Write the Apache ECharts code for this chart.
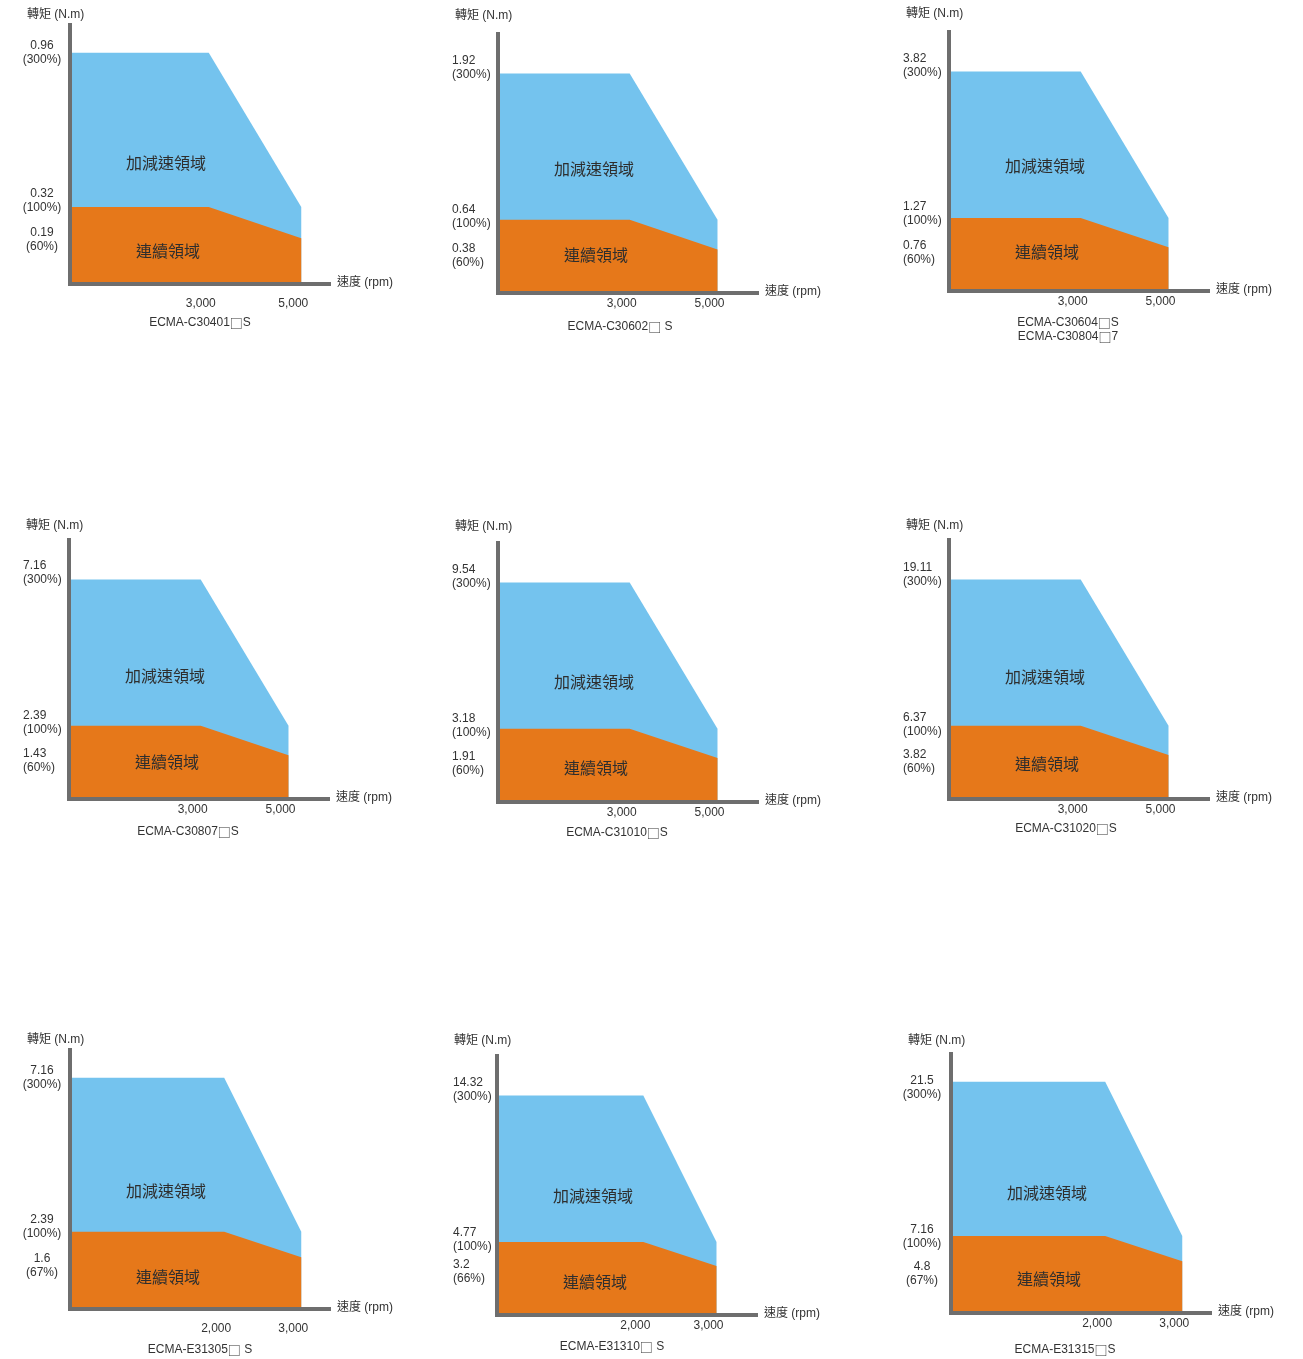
<!DOCTYPE html>
<html><head><meta charset="utf-8">
<script src="https://cdn.jsdelivr.net/npm/echarts@6/dist/echarts.min.js"></script>
<style>html,body{margin:0;padding:0;background:#fff}#c{width:1303px;height:1359px}</style>
</head><body><div id="c"></div>
<script>
// ---- data ----
const models = ['ECMA-C30401\u25A1S', 'ECMA-C30602\u25A1 S', 'ECMA-C30604\u25A1S\nECMA-C30804\u25A17',
  'ECMA-C30807\u25A1S', 'ECMA-C31010\u25A1S', 'ECMA-C31020\u25A1S',
  'ECMA-E31305\u25A1 S', 'ECMA-E31310\u25A1 S', 'ECMA-E31315\u25A1S'];
const peakTorque  = [0.96, 1.92, 3.82, 7.16, 9.54, 19.11, 7.16, 14.32, 21.5];
const ratedTorque = [0.32, 0.64, 1.27, 2.39, 3.18, 6.37, 2.39, 4.77, 7.16];
const maxSpdTorque = [0.19, 0.38, 0.76, 1.43, 1.91, 3.82, 1.6, 3.2, 4.8];
const peakPct  = ['300%','300%','300%','300%','300%','300%','300%','300%','300%'];
const ratedPct = ['100%','100%','100%','100%','100%','100%','100%','100%','100%'];
const maxSpdPct = ['60%','60%','60%','60%','60%','60%','67%','66%','67%'];
const ratedSpeed = [3000, 3000, 3000, 3000, 3000, 3000, 2000, 2000, 2000];
const maxSpeed   = [5000, 5000, 5000, 5000, 5000, 5000, 3000, 3000, 3000];
const yAxisName = '轉矩 (N.m)';
const xAxisName = '速度 (rpm)';
const accelLabel = '加減速領域';
const contLabel = '連續領域';

// ---- layout (pixels) ----
const layout = [
  {x:70,  y:284,  k:1.12, align:'center', lm:28, xm:14, nDy:10, mdx:130, mdy:39, bdy:121, ody:33, ly:[0,-6,1]},
  {x:498, y:293,  k:1.18, align:'left',   lm:46, xm:5,  nDy:18, mdx:122, mdy:34, bdy:124, ody:38, ly:[-6,-3,6]},
  {x:949, y:291,  k:1.18, align:'left',   lm:46, xm:5,  nDy:18, mdx:119, mdy:39, bdy:125, ody:39, ly:[-6,-4,5]},
  {x:69,  y:799,  k:1.18, align:'left',   lm:46, xm:5,  nDy:14, mdx:119, mdy:33, bdy:123, ody:37, ly:[-7,-3,6]},
  {x:498, y:802,  k:1.18, align:'left',   lm:46, xm:5,  nDy:16, mdx:119, mdy:31, bdy:120, ody:34, ly:[-6,-3,6]},
  {x:949, y:799,  k:1.18, align:'left',   lm:46, xm:5,  nDy:14, mdx:117, mdy:30, bdy:122, ody:35, ly:[-5,-1,7]},
  {x:70,  y:1309, k:1.12, align:'center', lm:28, xm:14, nDy:10, mdx:130, mdy:41, bdy:118, ody:32, ly:[0,-5,8]},
  {x:497, y:1315, k:1.18, align:'left',   lm:44, xm:5,  nDy:15, mdx:115, mdy:32, bdy:119, ody:33, ly:[-6,-2,6]},
  {x:951, y:1313, k:1.12, align:'center', lm:29, xm:5,  nDy:13, mdx:114, mdy:37, bdy:120, ody:34, ly:[6,1,12]}
];
const W = 259;
const BLUE = '#74C3EE', ORANGE = '#E6781A', AXIS = '#6E6E6E', TXT = '#333333';
const FONT = '"Liberation Sans", "Noto Sans CJK TC", sans-serif';
const CJK = '"Noto Sans CJK TC", sans-serif';

const grid = [], xAxis = [], yAxis = [], series = [], graphic = [];
const txt = (x, y, text, align, font, fill, rich) => ({
  type: 'text', x: x, y: y, z: 10, silent: true,
  style: {text: text, font: font, fill: fill || TXT, textAlign: align, align: align,
          textVerticalAlign: 'middle', verticalAlign: 'middle', lineHeight: 14, rich: rich || {}}
});
models.forEach((m, i) => {
  const L = layout[i];
  grid.push({left: L.x, top: L.y - W, width: W, height: W});
  xAxis.push({
    gridIndex: i, type: 'value', min: 0, max: maxSpeed[i] * L.k, z: 5,
    axisLine: {show: true, onZero: false, lineStyle: {color: AXIS, width: 4, cap: 'square'}},
    axisTick: {show: false}, splitLine: {show: false},
    axisLabel: {
      customValues: [ratedSpeed[i], maxSpeed[i]],
      formatter: v => v.toLocaleString('en-US'),
      margin: L.xm, color: TXT, fontSize: 12, fontFamily: FONT, padding: [0, 16, 0, 0]
    }
  });
  yAxis.push({
    gridIndex: i, type: 'value', min: 0, max: peakTorque[i] * L.k, z: 5,
    axisLine: {show: true, onZero: false, lineStyle: {color: AXIS, width: 4, cap: 'square'}},
    axisTick: {show: false}, splitLine: {show: false}, axisLabel: {show: false}
  });
  series.push({
    type: 'line', xAxisIndex: i, yAxisIndex: i, silent: true, symbol: 'none', z: 2,
    data: [[0, peakTorque[i]], [ratedSpeed[i], peakTorque[i]], [maxSpeed[i], ratedTorque[i]]],
    lineStyle: {width: 0, opacity: 0}, areaStyle: {color: BLUE, opacity: 1}
  });
  series.push({
    type: 'line', xAxisIndex: i, yAxisIndex: i, silent: true, symbol: 'none', z: 3,
    data: [[0, ratedTorque[i]], [ratedSpeed[i], ratedTorque[i]], [maxSpeed[i], maxSpdTorque[i]]],
    lineStyle: {width: 0, opacity: 0}, areaStyle: {color: ORANGE, opacity: 1}
  });
  graphic.push(txt(L.x - 43, L.y - W - L.nDy, yAxisName, 'left', '12px ' + FONT));
  graphic.push(txt(L.x + W + 8, L.y - 1, xAxisName, 'left', '12px ' + FONT));
  const modelRich = m.split('\u25A1').join('{b|\u25A1}');
  graphic.push(txt(L.x + L.mdx, L.y + L.mdy, modelRich, 'center', '12px ' + FONT, TXT,
    {b: {fontFamily: CJK, fontSize: 13, fill: TXT, lineHeight: 14}}));
  graphic.push(txt(L.x + 96, L.y - L.bdy, accelLabel, 'center', '16px ' + CJK, '#2e2e2e'));
  graphic.push(txt(L.x + 98, L.y - L.ody, contLabel, 'center', '16px ' + CJK, '#2e2e2e'));
});

const chart = echarts.init(document.getElementById('c'));
chart.setOption({
  animation: false, backgroundColor: '#ffffff',
  grid: grid, xAxis: xAxis, yAxis: yAxis, series: series, graphic: graphic
});

// y value labels, placed through each grid's own y scale
const yLabels = [];
models.forEach((m, i) => {
  const L = layout[i];
  const vals = [peakTorque[i], ratedTorque[i], maxSpdTorque[i]];
  const pcts = [peakPct[i], ratedPct[i], maxSpdPct[i]];
  vals.forEach((v, j) => {
    const p = chart.convertToPixel({gridIndex: i}, [0, v]);
    yLabels.push(txt(L.x - L.lm, p[1] + L.ly[j], String(v) + '\n(' + pcts[j] + ')', L.align, '12px ' + FONT));
  });
});
chart.setOption({graphic: graphic.concat(yLabels)});
</script></body></html>
